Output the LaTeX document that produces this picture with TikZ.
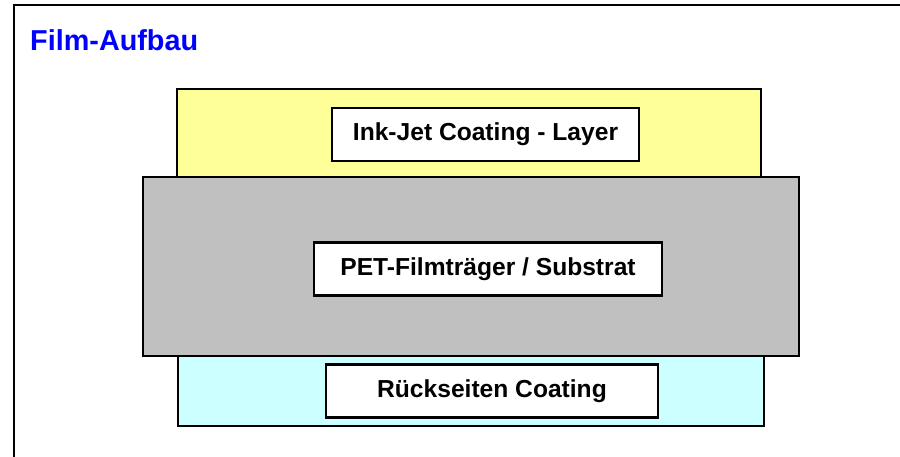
\documentclass[tikz,border=0pt]{standalone}
\usepackage{fontspec}
\setmainfont{Liberation Sans}
\usepackage{tikz}
\usetikzlibrary{positioning}
\definecolor{inkyellow}{HTML}{FFFF99}
\definecolor{petgray}{HTML}{C0C0C0}
\definecolor{backcyan}{HTML}{CCFFFF}
\definecolor{titleblue}{HTML}{0000FF}
\tikzset{
  layer/.style={draw=black,line width=2.8pt,inner sep=0pt,minimum width=#1},
  tag/.style={draw=black,line width=2.8pt,fill=white,inner sep=0pt,minimum height=53pt,font=\bfseries\fontsize{24.6}{28}\selectfont},
}
\begin{document}
\begin{tikzpicture}[x=1pt,y=-1pt]
\clip (0,0) rectangle (900,456);
\draw[line width=2.7pt] (14,5) rectangle (920,476);
\node[anchor=base west,text=titleblue,font=\bfseries\fontsize{28.8}{32}\selectfont,inner sep=0pt] (title) at (30,50) {Film-Aufbau};
% layers
\node[layer=584pt,minimum height=88pt,fill=inkyellow] (ink) at (469,133) {};
\node[layer=586pt,minimum height=70pt,fill=backcyan] (back) at (471,391) {};
\node[layer=656pt,minimum height=179pt,fill=petgray] (pet) at (471,266.5) {};
% labels
\node[tag,minimum width=307pt] (inktag) at (485.5,134.5) {Ink-Jet Coating - Layer};
\node[tag,minimum width=348pt] (pettag) at (488,269) {PET-Filmträger / Substrat};
\node[tag,minimum width=332pt] (backtag) at (492,391) {Rückseiten Coating};
\end{tikzpicture}
\end{document}
